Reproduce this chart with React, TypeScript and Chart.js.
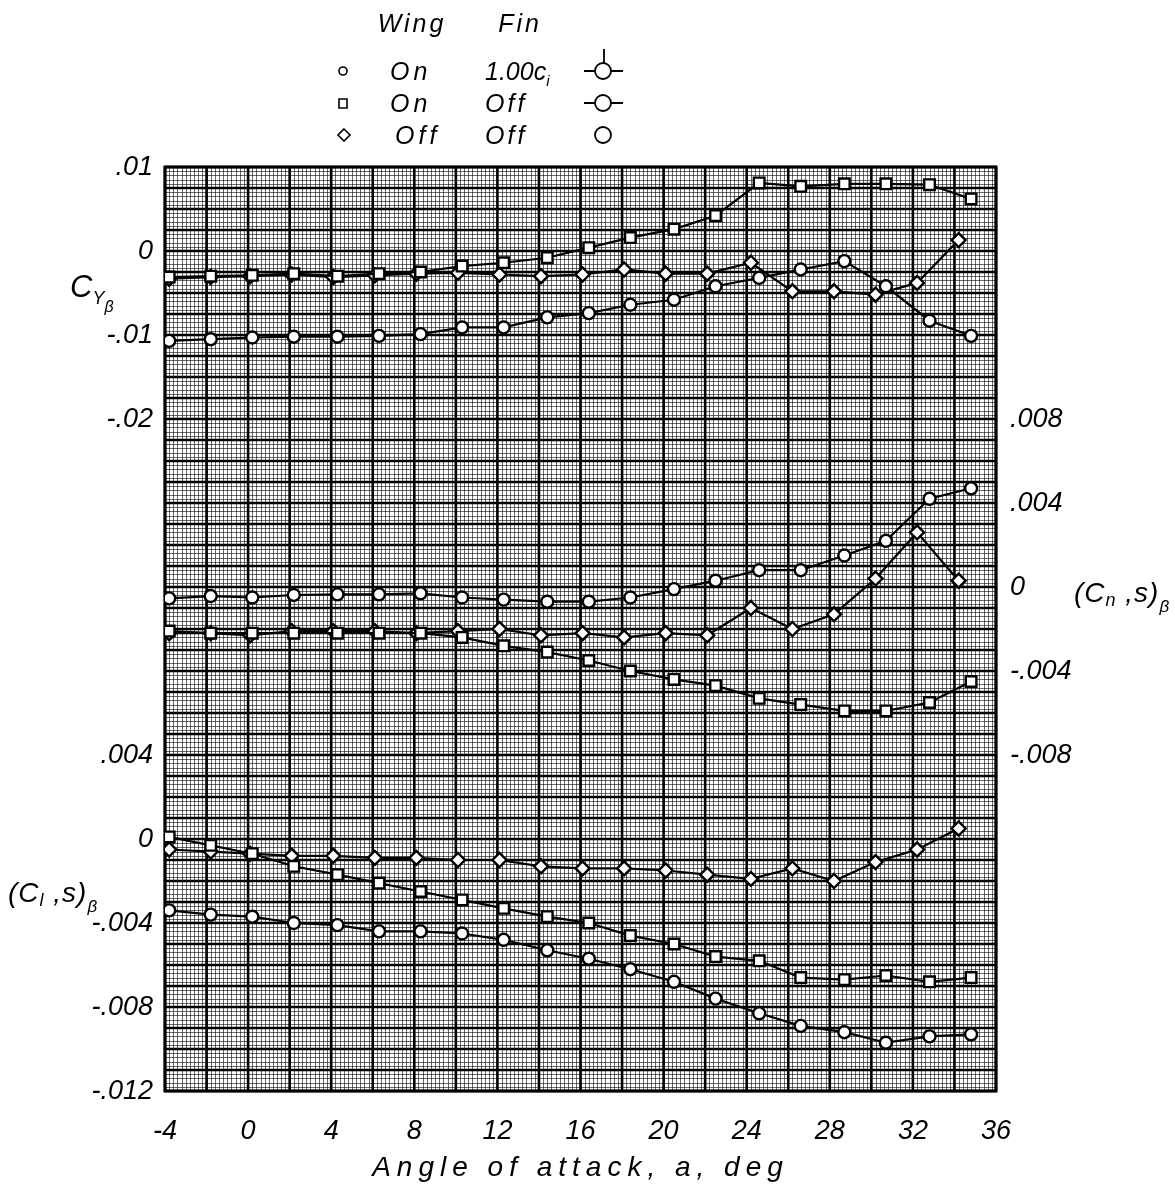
import React, { useEffect, useRef } from 'react';
import { Chart, registerables } from 'chart.js';
Chart.register(...registerables);

// ---------- data ----------
const alphaWingOn = [-3.8, -1.8, 0.2, 2.2, 4.3, 6.3, 8.3, 10.3, 12.3, 14.4, 16.4, 18.4, 20.5, 22.5, 24.6, 26.6, 28.7, 30.7, 32.8, 34.8];
const alphaWingOff = [-3.8, -1.8, 0.1, 2.1, 4.1, 6.1, 8.1, 10.1, 12.1, 14.1, 16.1, 18.1, 20.1, 22.1, 24.2, 26.2, 28.2, 30.2, 32.2, 34.2];

// C_Y beta
const cyFinOn = [-0.0107, -0.0105, -0.0103, -0.0102, -0.0102, -0.0101, -0.0099, -0.0091, -0.0091, -0.0079, -0.0074, -0.0064, -0.0058, -0.0042, -0.0032, -0.0022, -0.0012, -0.0042, -0.0083, -0.0101];
const cyFinOff = [-0.0031, -0.0030, -0.0029, -0.0027, -0.0030, -0.0027, -0.0025, -0.0018, -0.0014, -0.0008, 0.0004, 0.0016, 0.0026, 0.0042, 0.0081, 0.0077, 0.0080, 0.0080, 0.0079, 0.0062];
const cyWingOff = [-0.0033, -0.0031, -0.0030, -0.0028, -0.0031, -0.0029, -0.0027, -0.0026, -0.0028, -0.0030, -0.0028, -0.0022, -0.0027, -0.0027, -0.0014, -0.0048, -0.0048, -0.0052, -0.0038, 0.0013];

// (C_n,s) beta
const cnFinOn = [-0.00054, -0.00043, -0.0005, -0.00038, -0.00035, -0.00035, -0.0003, -0.0005, -0.0006, -0.0007, -0.0007, -0.0005, -0.0001, 0.0003, 0.0008, 0.0008, 0.0015, 0.0022, 0.0042, 0.0047];
const cnFinOff = [-0.0021, -0.0022, -0.0022, -0.0022, -0.0022, -0.0022, -0.0022, -0.0024, -0.0028, -0.0031, -0.0035, -0.0040, -0.0044, -0.0047, -0.0053, -0.0056, -0.0059, -0.0059, -0.0055, -0.0045];
const cnWingOff = [-0.0022, -0.0022, -0.0023, -0.0021, -0.0021, -0.0021, -0.0022, -0.0021, -0.0020, -0.0023, -0.0022, -0.0024, -0.0022, -0.0023, -0.0010, -0.0020, -0.0013, 0.0004, 0.0026, 0.0003];

// (C_l,s) beta
const clFinOn = [-0.0034, -0.0036, -0.0037, -0.0040, -0.0041, -0.0044, -0.0044, -0.0045, -0.0048, -0.0053, -0.0057, -0.0062, -0.0068, -0.0076, -0.0083, -0.0089, -0.0092, -0.0097, -0.0094, -0.0093];
const clFinOff = [0.0001, -0.0003, -0.0007, -0.0013, -0.0017, -0.0021, -0.0025, -0.0029, -0.0033, -0.0037, -0.0040, -0.0046, -0.0050, -0.0056, -0.0058, -0.0066, -0.0067, -0.0065, -0.0068, -0.0066];
const clWingOff = [-0.0005, -0.0006, -0.0007, -0.0008, -0.0008, -0.0009, -0.0009, -0.0010, -0.0010, -0.0013, -0.0014, -0.0014, -0.0015, -0.0017, -0.0019, -0.0014, -0.0020, -0.0011, -0.0005, 0.0005];

// ticks / ranges
const xTicks = [-4, 0, 4, 8, 12, 16, 20, 24, 28, 32, 36];
const cyTickValues = [0.01, 0, -0.01, -0.02];
const cnTickValues = [0.008, 0.004, 0, -0.004, -0.008];
const clTickValues = [0.004, 0, -0.004, -0.008, -0.012];
const xRange = [-4, 36];
const cyRange = [-0.10, 0.01];
const cnRange = [-0.024, 0.020];
const clRange = [-0.012, 0.032];

const legendWing = ['On', 'On', 'Off'];
const legendFin = ['1.00c', 'Off', 'Off'];
const xTitle = 'Angle of attack, a, deg';

// ---------- helpers ----------
const FONT = "'Liberation Sans', 'DejaVu Sans', Arial, sans-serif";
const fmt = (v: number) => {
  if (Math.abs(v) < 1e-12) return '0';
  const s = Math.abs(v).toString().replace(/^0/, '');
  return (v < 0 ? '-' : '') + s;
};
const clToCy = (v: number) => cyRange[0] + (v - clRange[0]) / (clRange[1] - clRange[0]) * (cyRange[1] - cyRange[0]);
const leftTicks = [
  ...cyTickValues.map((v) => ({ value: v, label: fmt(v) })),
  ...clTickValues.map((v) => ({ value: clToCy(v), label: fmt(v) })),
];

const mk = (xs: number[], ys: number[]) => xs.map((x, i) => ({ x, y: ys[i] }));

function drawSegs(ctx: CanvasRenderingContext2D, x: number, y: number, segs: { t: string; s: number; dy?: number }[], spacing = 1) {
  let cx = x;
  ctx.save();
  ctx.fillStyle = '#000';
  ctx.textBaseline = 'alphabetic';
  ctx.textAlign = 'left';
  (ctx as any).letterSpacing = spacing + 'px';
  for (const sg of segs) {
    ctx.font = `italic ${sg.s}px ${FONT}`;
    ctx.fillText(sg.t, cx, y + (sg.dy || 0));
    cx += ctx.measureText(sg.t).width;
  }
  ctx.restore();
}

const gridPlugin = {
  id: 'paperGrid',
  beforeDatasetsDraw(chart: any) {
    const { ctx, chartArea: a } = chart;
    const xs = chart.scales.x;
    const ys = chart.scales.yCY;
    ctx.save();
    ctx.fillStyle = '#fff';
    ctx.fillRect(a.left, a.top, a.right - a.left, a.bottom - a.top);
    // fine lines
    ctx.strokeStyle = 'rgba(0,0,0,0.58)';
    ctx.lineWidth = 1;
    ctx.beginPath();
    const nx = Math.round((xRange[1] - xRange[0]) / 0.2);
    for (let i = 0; i <= nx; i++) {
      const px = Math.round(xs.getPixelForValue(xRange[0] + i * 0.2)) + 0.5;
      ctx.moveTo(px, a.top); ctx.lineTo(px, a.bottom);
    }
    const ny = Math.round((cyRange[1] - cyRange[0]) / 0.0005);
    for (let i = 0; i <= ny; i++) {
      const py = Math.round(ys.getPixelForValue(cyRange[1] - i * 0.0005)) + 0.5;
      ctx.moveTo(a.left, py); ctx.lineTo(a.right, py);
    }
    ctx.stroke();
    // heavy lines
    ctx.strokeStyle = '#000';
    ctx.lineWidth = 2.6;
    ctx.beginPath();
    for (let i = 0; i <= nx; i += 10) {
      const px = xs.getPixelForValue(xRange[0] + i * 0.2);
      ctx.moveTo(px, a.top); ctx.lineTo(px, a.bottom);
    }
    for (let i = 0; i <= ny; i += 5) {
      const py = ys.getPixelForValue(cyRange[1] - i * 0.0005);
      ctx.moveTo(a.left, py); ctx.lineTo(a.right, py);
    }
    ctx.stroke();
    ctx.lineWidth = 3;
    ctx.strokeRect(a.left, a.top, a.right - a.left, a.bottom - a.top);
    ctx.restore();
  },
  afterDraw(chart: any) {
    const { ctx, chartArea: a } = chart;
    // axis titles
    drawSegs(ctx, 70, 297, [{ t: 'C', s: 31 }, { t: 'Y', s: 18, dy: 7 }, { t: 'β', s: 16, dy: 15 }], 0);
    drawSegs(ctx, 1074, 602, [{ t: '(C', s: 28 }, { t: 'n', s: 18, dy: 4 }, { t: ' ,s)', s: 28 }, { t: 'β', s: 17, dy: 10 }], 1);
    drawSegs(ctx, 8, 902, [{ t: '(C', s: 28 }, { t: 'l', s: 18, dy: 4 }, { t: ' ,s)', s: 28 }, { t: 'β', s: 17, dy: 10 }], 1);
    // x title
    ctx.save();
    ctx.fillStyle = '#000';
    ctx.font = `italic 28px ${FONT}`;
    (ctx as any).letterSpacing = '6px';
    ctx.textAlign = 'center';
    ctx.textBaseline = 'alphabetic';
    ctx.fillText(xTitle, (a.left + a.right) / 2, 1176);
    ctx.restore();
    // legend
    ctx.save();
    ctx.fillStyle = '#000';
    ctx.strokeStyle = '#000';
    ctx.font = `italic 25px ${FONT}`;
    (ctx as any).letterSpacing = '3px';
    ctx.textAlign = 'center';
    ctx.fillText('Wing', 412, 32);
    ctx.fillText('Fin', 520, 32);
    ctx.restore();
    const rowsY = [71, 103, 135];
    rowsY.forEach((cy, i) => {
      drawSegs(ctx, i === 2 ? 395 : 390, cy + 9, [{ t: legendWing[i], s: 25 }], 4);
      if (i === 0) drawSegs(ctx, 485, cy + 9, [{ t: legendFin[i], s: 25 }, { t: 'i', s: 15, dy: 6 }], 0);
      else drawSegs(ctx, 485, cy + 9, [{ t: legendFin[i], s: 25 }], 3);
      ctx.save();
      ctx.strokeStyle = '#000';
      ctx.lineWidth = 1.6;
      ctx.beginPath();
      if (i === 0) ctx.arc(343, cy, 4, 0, Math.PI * 2);
      else if (i === 1) ctx.rect(339, cy - 4, 8, 9);
      else { ctx.moveTo(344, cy - 6); ctx.lineTo(350, cy); ctx.lineTo(344, cy + 6); ctx.lineTo(338, cy); ctx.closePath(); }
      ctx.stroke();
      ctx.lineWidth = 1.8;
      ctx.beginPath();
      ctx.arc(603, cy, 8, 0, Math.PI * 2);
      if (i < 2) {
        ctx.moveTo(584, cy); ctx.lineTo(595, cy);
        ctx.moveTo(611, cy); ctx.lineTo(623, cy);
      }
      if (i === 0) { ctx.moveTo(604, cy - 8); ctx.lineTo(604, cy - 22); }
      ctx.stroke();
      ctx.restore();
    });
  },
};

const tickFont = { family: FONT, size: 27, style: 'italic' as const };

export default function App() {
  const ref = useRef<HTMLCanvasElement>(null);
  useEffect(() => {
    if (!ref.current) return;
    const lineDs = (label: string, data: any[], yAxisID: string, pointStyle: string, r: number) => ({
      label, data, yAxisID, pointStyle,
      showLine: true,
      borderColor: '#000',
      backgroundColor: '#fff',
      pointBackgroundColor: '#fff',
      pointBorderColor: '#000',
      pointBorderWidth: 2.4,
      pointRadius: r,
      borderWidth: 2.2,
      tension: 0,
    });
    const chart = new Chart(ref.current, {
      type: 'scatter',
      data: {
        datasets: [
          lineDs('CY fin on', mk(alphaWingOn, cyFinOn), 'yCY', 'circle', 6),
          lineDs('CY fin off', mk(alphaWingOn, cyFinOff), 'yCY', 'rect', 7.5),
          lineDs('CY wing off', mk(alphaWingOff, cyWingOff), 'yCY', 'rectRot', 7),
          lineDs('Cn fin on', mk(alphaWingOn, cnFinOn), 'yCn', 'circle', 6),
          lineDs('Cn fin off', mk(alphaWingOn, cnFinOff), 'yCn', 'rect', 7.5),
          lineDs('Cn wing off', mk(alphaWingOff, cnWingOff), 'yCn', 'rectRot', 7),
          lineDs('Cl fin on', mk(alphaWingOn, clFinOn), 'yCl', 'circle', 6),
          lineDs('Cl fin off', mk(alphaWingOn, clFinOff), 'yCl', 'rect', 7.5),
          lineDs('Cl wing off', mk(alphaWingOff, clWingOff), 'yCl', 'rectRot', 7),
        ] as any,
      },
      options: {
        animation: false,
        responsive: false,
        maintainAspectRatio: false,
        layout: { padding: { top: 167, left: 0, right: 0, bottom: 0 } },
        plugins: { legend: { display: false }, tooltip: { enabled: false } },
        scales: {
          x: {
            type: 'linear', position: 'bottom', min: xRange[0], max: xRange[1],
            grid: { display: false, drawTicks: false }, border: { display: false },
            afterBuildTicks: (s: any) => { s.ticks = xTicks.map((v) => ({ value: v })); },
            afterFit: (s: any) => { s.height = 93; },
            ticks: { autoSkip: false, maxRotation: 0, padding: 24, color: '#000', font: tickFont, callback: (v: any) => fmt(Number(v)) },
          },
          yCY: {
            type: 'linear', position: 'left', min: cyRange[0], max: cyRange[1],
            grid: { display: false, drawTicks: false }, border: { display: false },
            afterBuildTicks: (s: any) => { s.ticks = leftTicks.map((t) => ({ value: t.value })); },
            afterFit: (s: any) => { s.width = 165; },
            ticks: { autoSkip: false, padding: 12, color: '#000', font: tickFont, callback: (_v: any, i: number) => leftTicks[i].label },
          },
          yCn: {
            type: 'linear', position: 'right', min: cnRange[0], max: cnRange[1],
            grid: { display: false, drawTicks: false }, border: { display: false },
            afterBuildTicks: (s: any) => { s.ticks = cnTickValues.map((v) => ({ value: v })); },
            afterFit: (s: any) => { s.width = 179; },
            ticks: { autoSkip: false, padding: 14, color: '#000', font: tickFont, callback: (v: any) => fmt(Number(v)) },
          },
          yCl: { type: 'linear', display: false, min: clRange[0], max: clRange[1] },
        },
      } as any,
      plugins: [gridPlugin],
    });
    return () => chart.destroy();
  }, []);
  return (
    <div style={{ position: 'fixed', left: 0, top: 0, width: 1175, height: 1184, background: '#fff' }}>
      <canvas ref={ref} width={1175} height={1184} style={{ display: 'block' }} />
    </div>
  );
}
